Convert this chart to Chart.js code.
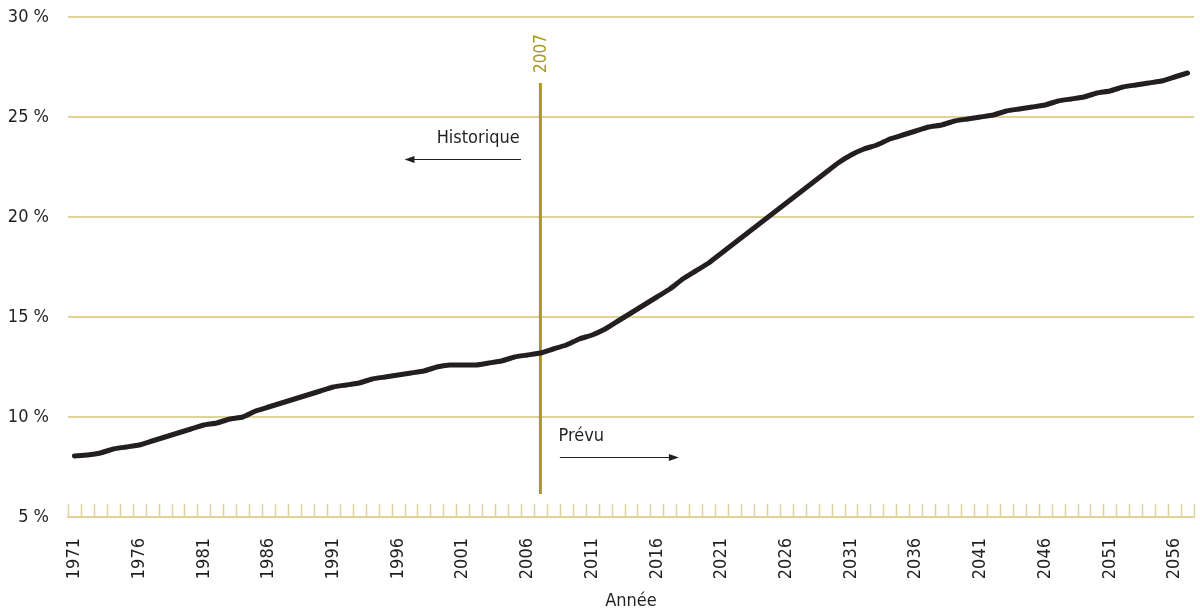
<!DOCTYPE html>
<html>
<head>
<meta charset="utf-8">
<script src="https://cdn.jsdelivr.net/npm/chart.js@4.4.1/dist/chart.umd.min.js"></script>
<style>
  html, body { margin: 0; padding: 0; background: #ffffff; }
  #wrap { width: 1200px; height: 613px; position: relative; }
</style>
</head>
<body>
<div id="wrap"><canvas id="c" width="1200" height="613"></canvas></div>
<script>
const years = [
  '1971','1972','1973','1974','1975','1976','1977','1978','1979','1980',
  '1981','1982','1983','1984','1985','1986','1987','1988','1989','1990',
  '1991','1992','1993','1994','1995','1996','1997','1998','1999','2000',
  '2001','2002','2003','2004','2005','2006','2007','2008','2009','2010',
  '2011','2012','2013','2014','2015','2016','2017','2018','2019','2020',
  '2021','2022','2023','2024','2025','2026','2027','2028','2029','2030',
  '2031','2032','2033','2034','2035','2036','2037','2038','2039','2040',
  '2041','2042','2043','2044','2045','2046','2047','2048','2049','2050',
  '2051','2052','2053','2054','2055','2056','2057'
];
const shareValues = [
  8.05, 8.1, 8.2, 8.4, 8.5, 8.6, 8.8, 9.0, 9.2, 9.4,
  9.6, 9.7, 9.9, 10.0, 10.3, 10.5, 10.7, 10.9, 11.1, 11.3,
  11.5, 11.6, 11.7, 11.9, 12.0, 12.1, 12.2, 12.3, 12.5, 12.6,
  12.6, 12.6, 12.7, 12.8, 13.0, 13.1, 13.2, 13.4, 13.6, 13.9,
  14.1, 14.4, 14.8, 15.2, 15.6, 16.0, 16.4, 16.9, 17.3, 17.7,
  18.2, 18.7, 19.2, 19.7, 20.2, 20.7, 21.2, 21.7, 22.2, 22.7,
  23.1, 23.4, 23.6, 23.9, 24.1, 24.3, 24.5, 24.6, 24.8, 24.9,
  25.0, 25.1, 25.3, 25.4, 25.5, 25.6, 25.8, 25.9, 26.0, 26.2,
  26.3, 26.5, 26.6, 26.7, 26.8, 27.0, 27.2
];
const labelYears = ['1971','1976','1981','1986','1991','1996','2001','2006','2011','2016','2021','2026','2031','2036','2041','2046','2051','2056'];
const yTicks = [5, 10, 15, 20, 25, 30];
const splitYear = '2007';
const histLabel = 'Historique';
const forecastLabel = 'Prévu';
const axisTitle = 'Année';

const FONT = '"DejaVu Sans Condensed", "Liberation Sans Narrow", "Arial Narrow", sans-serif';
const GRID = '#dfd29a';
const OLIVE = '#a99a1c';
const INK = '#231f20';

const overlay = {
  id: 'overlay',
  beforeDatasetsDraw(chart) {
    const x = chart.scales.x, y = chart.scales.y, ctx = chart.ctx;
    const area = chart.chartArea;
    ctx.save();
    ctx.strokeStyle = GRID;
    ctx.lineWidth = 1.5;
    for (let i = 0; i <= years.length; i++) {
      const px = Math.round(x.getPixelForValue(i - 0.5)) + 0.5;
      ctx.beginPath();
      ctx.moveTo(px, area.bottom);
      ctx.lineTo(px, area.bottom - 13);
      ctx.stroke();
    }
    const sx = x.getPixelForValue(years.indexOf(splitYear));
    ctx.strokeStyle = OLIVE;
    ctx.lineWidth = 3;
    ctx.beginPath();
    ctx.moveTo(sx, y.getPixelForValue(26.7));
    ctx.lineTo(sx, y.getPixelForValue(6.15));
    ctx.stroke();
    ctx.save();
    ctx.translate(sx, y.getPixelForValue(27.2));
    ctx.rotate(-Math.PI / 2);
    ctx.fillStyle = OLIVE;
    ctx.font = '17px ' + FONT;
    ctx.textAlign = 'left';
    ctx.textBaseline = 'middle';
    ctx.fillText(splitYear, 0, 1);
    ctx.restore();
    ctx.fillStyle = INK;
    ctx.font = '18px ' + FONT;
    ctx.textBaseline = 'middle';
    ctx.textAlign = 'right';
    ctx.fillText(histLabel, x.getPixelForValue(34.4), y.getPixelForValue(23.95));
    ctx.textAlign = 'left';
    ctx.fillText(forecastLabel, x.getPixelForValue(37.4), y.getPixelForValue(9.05));
    const arrow = (x1, x2, yy) => {
      const a = x.getPixelForValue(x1), b = x.getPixelForValue(x2), py = Math.round(y.getPixelForValue(yy)) + 0.5;
      const dir = Math.sign(b - a);
      ctx.strokeStyle = INK;
      ctx.lineWidth = 1;
      ctx.beginPath();
      ctx.moveTo(a, py);
      ctx.lineTo(b - dir * 6, py);
      ctx.stroke();
      ctx.beginPath();
      ctx.moveTo(b, py);
      ctx.lineTo(b - dir * 10, py - 3.5);
      ctx.lineTo(b - dir * 10, py + 3.5);
      ctx.closePath();
      ctx.fill();
    };
    arrow(34.5, 25.5, 22.9);
    arrow(37.5, 46.7, 8.0);
    ctx.restore();
  }
};

new Chart(document.getElementById('c'), {
  type: 'line',
  data: {
    labels: years,
    datasets: [{
      data: shareValues,
      borderColor: INK,
      borderWidth: 5,
      pointRadius: 0,
      tension: 0.15,
      borderCapStyle: 'round',
      borderJoinStyle: 'round',
      fill: false
    }]
  },
  options: {
    responsive: false,
    animation: false,
    events: [],
    layout: { padding: { top: 17, right: 6, left: 8, bottom: 0 } },
    plugins: { legend: { display: false }, tooltip: { enabled: false } },
    scales: {
      x: {
        type: 'category',
        offset: true,
        grid: { display: false },
        border: { display: true, color: GRID, width: 2 },
        afterFit: (s) => { s.paddingLeft = 0; s.paddingRight = 0; s.height = 96; },
        ticks: {
          autoSkip: false,
          maxRotation: 90,
          minRotation: 90,
          padding: 13,
          color: INK,
          font: { family: FONT, size: 18 },
          callback: function (v, i) {
            const lbl = years[i];
            return labelYears.includes(lbl) ? lbl : '';
          }
        },
        title: {
          display: true,
          text: axisTitle,
          color: INK,
          font: { family: FONT, size: 18 },
          padding: { top: 15, bottom: 1 }
        }
      },
      y: {
        min: yTicks[0],
        max: yTicks[yTicks.length - 1],
        afterBuildTicks: (scale) => { scale.ticks = yTicks.map(v => ({ value: v })); },
        afterFit: (s) => { s.paddingTop = 0; s.paddingBottom = 0; s.width = 60; },
        grid: { color: GRID, lineWidth: 2, drawTicks: false },
        border: { display: false },
        ticks: {
          padding: 19,
          color: INK,
          font: { family: FONT, size: 18 },
          callback: (v) => v + ' %'
        }
      }
    }
  },
  plugins: [overlay]
});
</script>
</body>
</html>
